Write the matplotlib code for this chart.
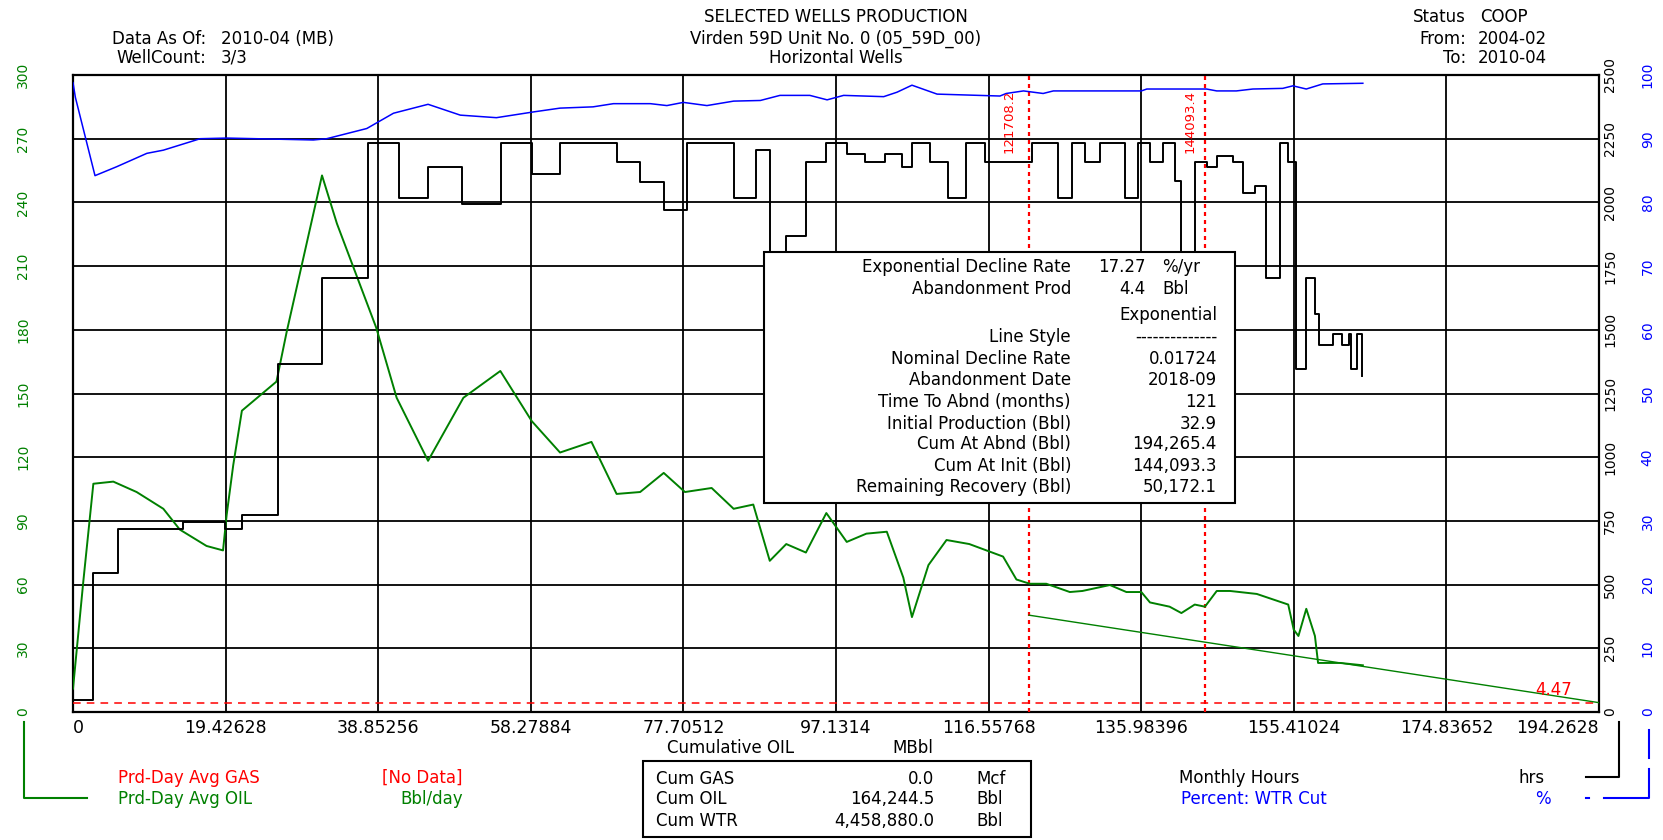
import matplotlib
matplotlib.use('Agg')
import matplotlib.pyplot as plt
from matplotlib.patches import Rectangle
from matplotlib.lines import Line2D

plt.rcParams['font.family'] = ['DejaVu Sans']

# ---------------- data ----------------
x_tick_labels = ["0", "19.42628", "38.85256", "58.27884", "77.70512", "97.1314",
                 "116.55768", "135.98396", "155.41024", "174.83652", "194.2628"]
oil_tick_labels = ["0", "30", "60", "90", "120", "150", "180", "210", "240", "270", "300"]
hours_tick_labels = ["0", "250", "500", "750", "1000", "1250", "1500", "1750", "2000", "2250", "2500"]
wtr_tick_labels = ["0", "10", "20", "30", "40", "50", "60", "70", "80", "90", "100"]

oil_cum = [0, 1.31, 2.59, 5.13, 8.1, 11.5, 13.6, 17.0, 19.1, 19.56, 20.4, 21.5, 25.9, 27.2,
           31.7, 33.6, 38.6, 41.2, 45.2, 49.7, 54.4, 58.4, 62.0, 66.0, 69.2, 72.2, 75.2,
           77.9, 81.3, 84.1, 86.6, 88.7, 90.8, 93.3, 95.9, 98.5, 101.0, 103.6, 105.7,
           106.8, 108.9, 111.2, 114.1, 118.4, 120.1, 121.8, 123.9, 126.9, 128.5, 132.0,
           134.1, 136.0, 137.1, 139.6, 141.1, 142.8, 144.1, 145.6, 147.3, 150.7, 154.7,
           155.4, 156.0, 157.0, 158.1, 158.5, 161.3, 164.2]
oil_rate = [11, 61.4, 107.5, 108.5, 103.6, 95.7, 85.9, 78.2, 76.1, 92.8, 116.3, 141.9, 155.6,
            179, 252.7, 230, 181, 148, 118.3, 148, 160.6, 137, 122.2, 127.2, 102.7, 103.6,
            112.6, 103.6, 105.5, 95.7, 97.7, 71.2, 79.1, 75.1, 93.7, 80.1, 84.0, 84.9, 63.3,
            44.7, 69.2, 81, 79.1, 73.2, 62.4, 60.4, 60.4, 56.5, 57, 59.8, 56.5, 56.5, 51.6,
            49.6, 46.6, 50.6, 49.6, 57, 57, 55.6, 50.6, 38.8, 35.8, 48.6, 35.8, 23.1, 23.1, 22.0]

wtr_cum = [0, 0.3, 2.8, 5.56, 9.4, 11.5, 16.2, 19.6, 30.6, 32.3, 37.4, 40.8, 45.2, 49.3, 53.9,
           58.6, 62.0, 66.2, 68.8, 73.5, 75.6, 77.7, 80.7, 84.1, 87.5, 90.0, 93.8, 96.0,
           98.1, 103.2, 104.9, 106.8, 110.0, 118.0, 118.8, 121.0, 123.5, 124.8, 136.0,
           136.7, 144.3, 145.6, 148.1, 150.2, 154.0, 155.3, 157.0, 159.1, 164.2]
wtr_pct = [98.8, 96.5, 84.2, 85.6, 87.7, 88.2, 90.0, 90.1, 89.8, 90.0, 91.6, 94.0, 95.4, 93.7,
           93.3, 94.2, 94.8, 95.0, 95.5, 95.5, 95.2, 95.7, 95.2, 95.9, 96.0, 96.8, 96.8, 96.1,
           96.8, 96.6, 97.3, 98.4, 97.0, 96.7, 97.1, 97.5, 97.1, 97.5, 97.5, 97.8, 97.8, 97.5,
           97.5, 97.8, 97.9, 98.3, 97.8, 98.6, 98.7]

hours_cum = [0, 2.59, 5.77, 14.05, 19.35, 21.46, 26.1, 31.65, 37.6, 41.5, 45.2, 49.5, 54.45,
             58.4, 62.0, 69.2, 72.2, 75.2, 78.1, 84.1, 87.0, 88.7, 90.8, 93.3, 95.9, 98.5,
             100.8, 103.4, 105.5, 106.8, 109.1, 111.4, 113.7, 116.1, 122.1, 125.4, 127.2,
             128.8, 130.7, 133.9, 135.6, 137.1, 138.8, 140.3, 141.1, 142.8, 144.3, 145.6,
             147.7, 149.0, 150.5, 151.9, 153.6, 154.7, 155.7, 157.0, 158.1, 158.6, 160.4,
             161.5, 162.4, 162.7, 163.5, 164.05]
hours_val = [46, 547, 720, 744, 720, 773, 1366, 1702, 2232, 2016, 2139, 1992, 2232, 2111,
             2232, 2160, 2081, 1970, 2232, 2016, 2204, 1400, 1869, 2160, 2232, 2188, 2160,
             2188, 2139, 2232, 2160, 2016, 2232, 2160, 2232, 2016, 2232, 2160, 2232, 2016,
             2232, 2160, 2232, 2085, 1600, 2160, 2139, 2183, 2160, 2036, 2065, 1702, 2232,
             2160, 1346, 1702, 1562, 1441, 1485, 1441, 1485, 1346, 1485, 1320]

decline_cum = [121.7082, 144.0933, 194.2654]
decline_rate = [45.6, 32.9, 4.4]
abandon_rate = 4.47
marker_cums = [121.7082, 144.0934]

info_labels = ["Exponential Decline Rate", "Abandonment Prod", "", "Line Style",
               "Nominal Decline Rate", "Abandonment Date", "Time To Abnd (months)",
               "Initial Production (Bbl)", "Cum At Abnd (Bbl)", "Cum At Init (Bbl)",
               "Remaining Recovery (Bbl)"]
info_values = ["", "", "Exponential", "--------------", "0.01724", "2018-09", "121",
               "32.9", "194,265.4", "144,093.3", "50,172.1"]

cum_names = ["Cum GAS", "Cum OIL", "Cum WTR"]
cum_values = ["0.0", "164,244.5", "4,458,880.0"]
cum_units = ["Mcf", "Bbl", "Bbl"]

# ---------------- figure ----------------
W, H = 1663, 840
GREEN = '#008000'
BLUE = '#0000FF'
RED = '#FF0000'

fig = plt.figure(figsize=(W / 100, H / 100), dpi=100)


def fx(x):
    return x / W


def fy(y):
    return 1 - y / H


L, R, T, B = 73, 1599, 75, 712
ax = fig.add_axes([fx(L), fy(B), (R - L) / W, (B - T) / H])
xmax = float(x_tick_labels[-1])
ax.set_xlim(0, xmax)
ax.set_ylim(0, float(oil_tick_labels[-1]))
axh = ax.twinx()
axh.set_ylim(0, float(hours_tick_labels[-1]))
axw = ax.twinx()
axw.set_ylim(0, float(wtr_tick_labels[-1]))

# ticks
xt = [float(v) for v in x_tick_labels]
ax.set_xticks(xt)
ax.set_xticklabels(x_tick_labels, fontsize=12.5)
xls = ax.get_xticklabels()
xls[0].set_ha('left')
xls[-1].set_ha('right')
ax.tick_params(axis='x', length=0, pad=5)

ax.set_yticks([float(v) for v in oil_tick_labels])
ax.set_yticklabels(oil_tick_labels, rotation=90, va='center', color=GREEN, fontsize=10)
ax.tick_params(axis='y', length=0, pad=31)

axh.set_yticks([float(v) for v in hours_tick_labels])
axh.set_yticklabels(hours_tick_labels, rotation=90, va='center', color='black', fontsize=10)
axh.tick_params(axis='y', length=0, pad=3)

axw.set_yticks([float(v) for v in wtr_tick_labels])
axw.set_yticklabels(wtr_tick_labels, rotation=90, va='center', color=BLUE, fontsize=10)
axw.tick_params(axis='y', length=0, pad=30)

ax.grid(True, color='black', lw=1.3)
for s in ax.spines.values():
    s.set_linewidth(1.6)
    s.set_color('black')
for a in (axh, axw):
    for s in a.spines.values():
        s.set_visible(False)

# reference lines
ax.axhline(abandon_rate, color=RED, lw=1.1, dashes=(5, 4), zorder=3)
for c in marker_cums:
    ax.axvline(c, color=RED, lw=1.6, dashes=(1.8, 1.8), zorder=3)

# series
ax.plot(oil_cum, oil_rate, color=GREEN, lw=1.4, zorder=4)
ax.plot(decline_cum, decline_rate, color=GREEN, lw=1.0, zorder=4)
axh.plot(hours_cum, hours_val, color='black', lw=1.4, drawstyle='steps-post')
axw.plot(wtr_cum, wtr_pct, color=BLUE, lw=1.1)

# ---------------- texts ----------------
FS = 12


def ftext(x, y, s, ha='left', color='black', fs=FS, **kw):
    fig.text(fx(x), fy(y), s, ha=ha, va='center', color=color, fontsize=fs, zorder=6, **kw)


# header
ftext(836, 17, "SELECTED WELLS PRODUCTION", ha='center')
ftext(836, 39, "Virden 59D Unit No. 0 (05_59D_00)", ha='center')
ftext(836, 58, "Horizontal Wells", ha='center')
ftext(206, 39, "Data As Of:", ha='right')
ftext(221, 39, "2010-04 (MB)")
ftext(206, 58, "WellCount:", ha='right')
ftext(221, 58, "3/3")
ftext(1466, 17, "Status", ha='right')
ftext(1480, 17, "COOP")
ftext(1466, 39, "From:", ha='right')
ftext(1478, 39, "2004-02")
ftext(1466, 58, "To:", ha='right')
ftext(1478, 58, "2010-04")

# axis title
ftext(667, 748, "Cumulative OIL")
ftext(892, 748, "MBbl")

# left legend
ftext(118, 778, "Prd-Day Avg GAS", color=RED)
ftext(382, 778, "[No Data]", color=RED)
ftext(118, 799, "Prd-Day Avg OIL", color=GREEN)
ftext(400, 799, "Bbl/day", color=GREEN)
fig.add_artist(Line2D([fx(24), fx(24), fx(87)], [fy(722), fy(798), fy(798)],
                      color=GREEN, lw=1.5, transform=fig.transFigure))

# right legend
ftext(1179, 778, "Monthly Hours")
ftext(1518, 778, "hrs")
ftext(1181, 799, "Percent: WTR Cut", color=BLUE)
ftext(1535, 799, "%", color=BLUE)
fig.add_artist(Line2D([fx(1619), fx(1619), fx(1586)], [fy(722), fy(777), fy(777)],
                      color='black', lw=1.5, transform=fig.transFigure))
fig.add_artist(Line2D([fx(1649), fx(1649)], [fy(730), fy(758)],
                      color=BLUE, lw=1.5, transform=fig.transFigure))
fig.add_artist(Line2D([fx(1649), fx(1649), fx(1604)], [fy(769), fy(798), fy(798)],
                      color=BLUE, lw=1.5, transform=fig.transFigure))
fig.add_artist(Line2D([fx(1586), fx(1589)], [fy(798), fy(798)],
                      color=BLUE, lw=1.5, transform=fig.transFigure))

# bottom cum box
fig.add_artist(Rectangle((fx(643), fy(837)), (1031 - 643) / W, (837 - 761) / H,
                         transform=fig.transFigure, facecolor='white', edgecolor='black',
                         lw=1.5, zorder=5))
for i, (n, v, u) in enumerate(zip(cum_names, cum_values, cum_units)):
    yy = [779, 799, 821][i]
    ftext(656, yy, n)
    ftext(934, yy, v, ha='right')
    ftext(976, yy, u)

# info box
fig.add_artist(Rectangle((fx(764), fy(503)), (1235 - 764) / W, (503 - 252) / H,
                         transform=fig.transFigure, facecolor='white', edgecolor='black',
                         lw=1.5, zorder=5))
info_y = [267, 289, 315, 337, 359, 380, 402, 424, 444, 466, 487]
for lab, val, yy in zip(info_labels, info_values, info_y):
    if lab:
        ftext(1071, yy, lab, ha='right')
    if val:
        ftext(1217, yy, val, ha='right')
ftext(1146, 267, "17.27", ha='right')
ftext(1162, 267, "%/yr")
ftext(1146, 289, "4.4", ha='right')
ftext(1162, 289, "Bbl")

# marker labels
for c, xr in zip(marker_cums, [1016, 1197]):
    fig.text(fx(xr), fy(90), f"{c * 1000:.1f}", rotation=90, ha='right', va='top',
             color=RED, fontsize=9.5, zorder=6)

ftext(1572, 690, f"{abandon_rate:.2f}", ha='right', color=RED)

fig.savefig('out.png', dpi=100)
